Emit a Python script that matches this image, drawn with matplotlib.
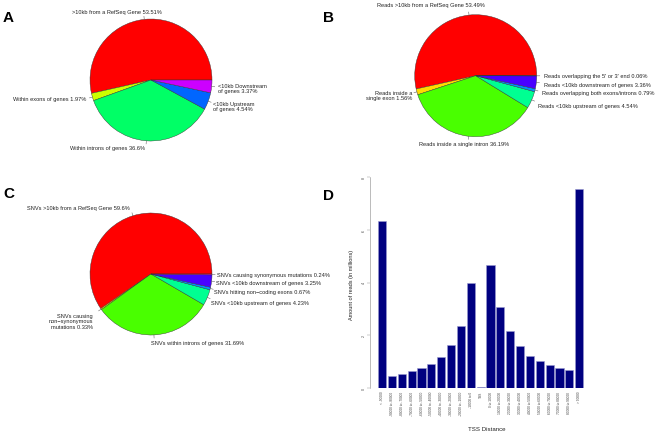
import matplotlib
matplotlib.use("Agg")
import matplotlib.pyplot as plt
import numpy as np

plt.rcParams["font.family"] = ["Liberation Sans", "DejaVu Sans"]

W, H = 661, 435

# panel A: reads/genes
a_labels = [">10kb from a RefSeq Gene 53.51%", "Within exons of genes 1.97%",
            "Within introns of genes 36.6%", "<10kb Upstream\nof genes 4.54%",
            "<10kb Downstream\nof genes 3.37%"]
a_values = [53.51, 1.97, 36.6, 4.54, 3.37]
a_colors = ["#FF0000", "#CCFF00", "#00FF66", "#0066FF", "#CC00FF"]

# panel B: reads
b_labels = ["Reads >10kb from a RefSeq Gene 53.49%", "Reads inside a\nsingle exon 1.56%",
            "Reads inside a single intron 36.19%", "Reads <10kb upstream of genes 4.54%",
            "Reads overlapping both exons/introns 0.79%",
            "Reads <10kb downstream of genes 3.36%",
            "Reads overlapping the 5' or 3' end 0.06%"]
b_values = [53.49, 1.56, 36.19, 4.54, 0.79, 3.36, 0.06]

# panel C: SNVs
c_labels = ["SNVs >10kb from a RefSeq Gene 59.6%",
            "SNVs causing\nnon\u2212synonymous\nmutations 0.33%",
            "SNVs within introns of genes 31.69%", "SNVs <10kb upstream of genes 4.23%",
            "SNVs hitting non\u2212coding exons 0.67%",
            "SNVs <10kb downstream of genes 3.25%",
            "SNVs causing synonymous mutations 0.24%"]
c_values = [59.6, 0.33, 31.69, 4.23, 0.67, 3.25, 0.24]

rainbow7 = ["#FF0000", "#FFDB00", "#49FF00", "#00FF92", "#0092FF", "#4900FF", "#FF00DB"]

# panel D: reads by distance to TSS (millions)
tss_bins = ["< -90000", "-90000 to -80000", "-80000 to -70000", "-70000 to -60000",
            "-60000 to -50000", "-50000 to -40000", "-40000 to -30000",
            "-30000 to -20000", "-20000 to -10000", "-10000 to 0", "TSS",
            "0 to 10000", "10000 to 20000", "20000 to 30000", "30000 to 40000",
            "40000 to 50000", "50000 to 60000", "60000 to 70000", "70000 to 80000",
            "80000 to 90000", "> 90000"]
tss_reads = [6.34, 0.47, 0.53, 0.64, 0.75, 0.91, 1.16, 1.63, 2.36, 3.99, 0.02,
             4.66, 3.09, 2.15, 1.60, 1.22, 1.01, 0.86, 0.75, 0.67, 7.55]

# layout (pixels from top-left): pie centre, radius, label anchors
a_layout = dict(center=(151, 81), r=61, box=(0, 0, 330, 180),
                anchors=[(162, 12.7, "right"), (86, 99.3, "right"), (145, 148.3, "right"),
                         (213.3, 107, "left"), (217.7, 89, "left")])
b_layout = dict(center=(475.7, 76.7), r=61, box=(330, 0, 661, 180),
                anchors=[(485, 5, "right"), (412.7, 96, "right"), (509.3, 145, "right"),
                         (538.3, 106.7, "left"), (542.3, 94, "left"),
                         (544.3, 85, "left"), (544.3, 76.7, "left")])
c_layout = dict(center=(151, 275), r=61, box=(0, 200, 330, 380),
                anchors=[(130, 208.3, "right"), (92.7, 322, "right"), (151, 343.3, "left"),
                         (211, 303.3, "left"), (214.3, 292.7, "left"),
                         (216, 283.7, "left"), (216.7, 275.3, "left")])

LABEL_SIZE = 4.1
TEXT_COLOR = "#222222"


def fig_text(fig, x, y, s, **kw):
    return fig.text(x / W, 1 - y / H, s, **kw)


def draw_pie(fig, values, labels, colors, layout):
    x0, y0, x1, y1 = layout["box"]
    cx, cy = layout["center"]
    r = layout["r"]
    ax = fig.add_axes([x0 / W, 1 - y1 / H, (x1 - x0) / W, (y1 - y0) / H])
    wedges, _ = ax.pie(values, colors=colors, startangle=0, counterclock=True,
                       wedgeprops=dict(edgecolor="#333333", linewidth=0.3))
    ax.set_aspect("auto")
    ax.set_xlim((x0 - cx) / r, (x1 - cx) / r)
    ax.set_ylim((cy - y1) / r, (cy - y0) / r)
    ax.axis("off")
    for w in wedges:
        mid = np.deg2rad((w.theta1 + w.theta2) / 2)
        ax.plot([np.cos(mid), 1.05 * np.cos(mid)], [np.sin(mid), 1.05 * np.sin(mid)],
                color="#666666", lw=0.4, clip_on=False)
    for text, (tx, ty, ha) in zip(labels, layout["anchors"]):
        fig_text(fig, tx, ty, text, ha=ha, va="center", fontsize=LABEL_SIZE,
                 color=TEXT_COLOR, linespacing=1.15)
    return ax


fig = plt.figure(figsize=(W / 100, H / 100), dpi=100)

draw_pie(fig, a_values, a_labels, a_colors, a_layout)
draw_pie(fig, b_values, b_labels, rainbow7, b_layout)
draw_pie(fig, c_values, c_labels, rainbow7, c_layout)

# bar panel D
ax = fig.add_axes([369.8 / W, 1 - 389 / H, 221.7 / W, 211 / H])
pos = np.arange(len(tss_reads)) * 1.2 + 0.7
ax.bar(pos, tss_reads, width=1.0, color="#000080", edgecolor="#9a9ad0", linewidth=0.4)
ax.set_xlim(-0.8, 26.2)
ax.set_ylim(0, 8)
for side in ["top", "right", "bottom"]:
    ax.spines[side].set_visible(False)
ax.spines["left"].set_bounds(0, 8)
ax.spines["left"].set_color("#888888")
ax.spines["left"].set_linewidth(0.4)
ax.set_yticks([0, 2, 4, 6, 8])
ax.set_yticklabels(["0", "2", "4", "6", "8"], rotation=90, va="center")
ax.tick_params(axis="y", length=2, width=0.3, colors="#888888", labelsize=2.6,
               labelcolor="#444444", pad=1)
ax.set_xticks(pos)
ax.set_xticklabels(tss_bins, rotation=90, va="top", ha="center")
ax.tick_params(axis="x", length=0, labelsize=2.3, labelcolor="#444444", pad=2)

fig_text(fig, 351.7, 285, "Amount of reads (in millions)", rotation=90, ha="center",
         va="center", fontsize=4.0, color=TEXT_COLOR)
fig_text(fig, 487, 430, "TSS Distance", ha="center", va="center", fontsize=4.4,
         color=TEXT_COLOR)

# panel letters
for letter, (lx, ly) in zip("ABCD", [(3, 11), (323, 11), (3, 187), (323, 189)]):
    fig_text(fig, lx, ly, letter, ha="left", va="top", fontsize=11, fontweight="bold")

fig.savefig("out.png", dpi=100)
